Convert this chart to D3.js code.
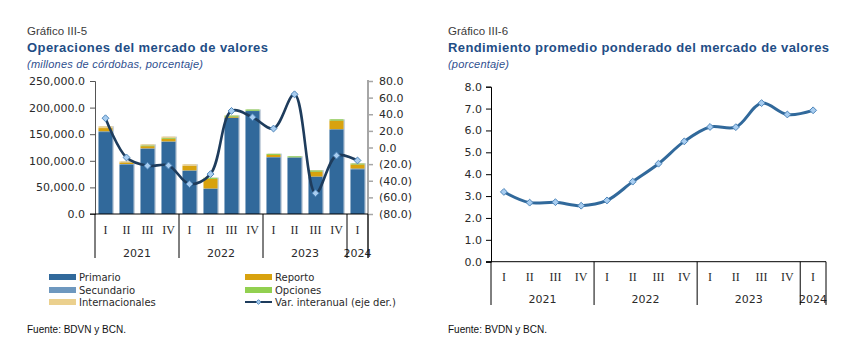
<!DOCTYPE html>
<html><head><meta charset="utf-8">
<script src="https://cdn.jsdelivr.net/npm/d3@7"></script>
<style>
html,body{margin:0;padding:0;background:#fff;}
svg{display:block;}
</style></head>
<body>
<svg id="c" width="852" height="358"></svg>
<script>
// ---- data ----
const quarters = ["I","II","III","IV","I","II","III","IV","I","II","III","IV","I"];
const years = ["2021","2022","2023","2024"];
const yearSpans = [4,4,4,1];
const primario = [154000,93000,122500,135500,81000,47000,180500,193500,106500,106000,70000,159000,84000];
const secundario = [1500,1000,1000,1000,1000,1000,500,500,500,500,500,500,1500];
const reporto = [6000,3000,4000,5000,8500,18000,2000,0,4000,0,9000,16000,7500];
const opciones = [0,0,1500,1500,0,2000,2000,2500,2000,2000,2500,2500,2000];
const internacionales = [3500,2000,2000,2500,3000,500,500,0,500,0,500,0,500];
const varInteranual = [35.2,-12,-22,-21.6,-44,-32,44,36.4,22.8,64,-55,-9.6,-15.6];
const rendimiento = [3.19,2.70,2.72,2.56,2.80,3.66,4.48,5.50,6.16,6.15,7.25,6.73,6.92];
const leftTicks = [0,50000,100000,150000,200000,250000];
const rightTicks = [-80,-60,-40,-20,0,20,40,60,80];
const rendTicks = [0,1,2,3,4,5,6,7,8];

const svg = d3.select("#c");
const blue = "#1F4E86";
const txt = "#2a2a2a";
const tickFont = "DejaVu Sans, Verdana, sans-serif";
const catFont = "Liberation Serif, Times New Roman, serif";

function header(x, t1, t2, t2w, t3, t3w){
  svg.append("text").attr("x",x).attr("y",35).attr("font-family","Liberation Sans, Arial").attr("font-size",11.5).attr("fill","#3a3a3a").text(t1);
  svg.append("text").attr("x",x).attr("y",52).attr("font-family","Liberation Sans, Arial").attr("font-weight","bold").attr("font-size",13).attr("fill",blue)
     .attr("textLength",t2w).attr("lengthAdjust","spacing").text(t2);
  svg.append("text").attr("x",x).attr("y",68).attr("font-family","Liberation Sans, Arial").attr("font-style","italic").attr("font-size",11).attr("fill","#2f4f8f")
     .attr("textLength",t3w).attr("lengthAdjust","spacing").text(t3);
}
header(27,"Gráfico III-5","Operaciones del mercado de valores",241,"(millones de córdobas, porcentaje)",176);
header(448,"Gráfico III-6","Rendimiento promedio ponderado del mercado de valores",381,"(porcentaje)",61);

function fmtNum(v){ return d3.format(",.1f")(v); }
function fmtParen(v){ return v<0 ? "("+d3.format(".1f")(-v)+")" : d3.format(".1f")(v); }

function catAxis(g, x, x0, x1, y0, rowY1, rowY2, lineBottom){
  const idx = d3.range(quarters.length);
  g.selectAll("text.q").data(idx).join("text").attr("class","q")
    .attr("x", i => x(i) + x.bandwidth()/2).attr("y", rowY1).attr("text-anchor","middle")
    .attr("font-family",catFont).attr("font-size",12).attr("fill",txt).text(i => quarters[i]);
  let start = 0;
  const bounds = [0];
  yearSpans.forEach((s,k)=>{
    const a = x(start), b = (start+s < quarters.length) ? x(start+s) : x1;
    g.append("text").attr("x",(a+b)/2).attr("y",rowY2).attr("text-anchor","middle")
      .attr("font-family",tickFont).attr("font-size",11).attr("fill",txt).text(years[k]);
    start += s; bounds.push(start);
  });
  bounds.forEach(b=>{
    const xx = b < quarters.length ? x(b) : x1;
    g.append("line").attr("x1",xx).attr("x2",xx).attr("y1",y0).attr("y2",lineBottom).attr("stroke","#000").attr("stroke-width",1);
  });
}

// ---------- LEFT CHART ----------
(function(){
  const x0 = 95, x1 = 368, yTop = 81, yBot = 214;
  const g = svg.append("g");
  const x = d3.scaleBand().domain(d3.range(quarters.length)).range([x0,x1]).paddingInner(0.33).paddingOuter(0.165);
  const xb = d3.scaleBand().domain(d3.range(quarters.length)).range([x0,x1]);
  const y = d3.scaleLinear().domain([0,250000]).range([yBot,yTop]);
  const y2 = d3.scaleLinear().domain([-80,80]).range([yBot,yTop]);

  const series = [
    {name:"Primario", vals:primario, color:"#31699B"},
    {name:"Secundario", vals:secundario, color:"#6E98BF"},
    {name:"Reporto", vals:reporto, color:"#D8A20E"},
    {name:"Opciones", vals:opciones, color:"#92D050"},
    {name:"Internacionales", vals:internacionales, color:"#EBD08E"}
  ];
  const rows = quarters.map((q,i)=>{ const o={i}; series.forEach(s=>o[s.name]=s.vals[i]); return o; });
  const stack = d3.stack().keys(series.map(s=>s.name))(rows);

  // bar shadow
  g.selectAll("rect.sh").data(rows).join("rect").attr("class","sh")
    .attr("x", d=>x(d.i)+1.5).attr("width", x.bandwidth())
    .attr("y", d=>y(d3.sum(series, s=>d[s.name]))).attr("height", d=>yBot - y(d3.sum(series, s=>d[s.name])))
    .attr("fill","#c9d3de");
  stack.forEach((layer,k)=>{
    g.selectAll("rect.s"+k).data(layer).join("rect").attr("class","s"+k)
      .attr("x",(d,i)=>x(i)).attr("width",x.bandwidth())
      .attr("y",d=>y(d[1])).attr("height",d=>Math.max(0,y(d[0])-y(d[1])))
      .attr("fill",series[k].color);
  });

  // left axis
  const la = g.append("g").attr("transform",`translate(${x0},0)`)
    .call(d3.axisLeft(y).tickValues(leftTicks).tickSize(5).tickFormat(fmtNum));
  la.select(".domain").attr("stroke","#555");
  la.selectAll(".tick line").attr("stroke","#555");
  la.selectAll("text").attr("font-family",tickFont).attr("font-size",11).attr("fill",txt).attr("x",-10);

  // right axis
  const ra = g.append("g").attr("transform",`translate(${x1},0)`)
    .call(d3.axisRight(y2).tickValues(rightTicks).tickSize(5).tickFormat(fmtParen).tickSizeOuter(0));
  ra.select(".domain").attr("stroke","#a6a6a6").attr("stroke-width",2).attr("d",`M0,${yTop-1}V${yBot+44}`);
  ra.selectAll(".tick line").attr("stroke","#a6a6a6").attr("stroke-width",1.5);
  ra.selectAll("text").attr("font-family",tickFont).attr("font-size",11).attr("fill",txt).attr("x",11);

  // baseline
  g.append("line").attr("x1",x0-5).attr("x2",x1).attr("y1",yBot).attr("y2",yBot).attr("stroke","#000");

  catAxis(g, xb, x0, x1, yBot, 234, 257, 258);

  // line
  const line = d3.line().x((d,i)=>xb(i)+xb.bandwidth()/2).y(d=>y2(d)).curve(d3.curveCatmullRom.alpha(0.5));
  g.append("path").datum(varInteranual).attr("d",line).attr("fill","none").attr("stroke","#1E3C5C").attr("stroke-width",2.6);
  const sym = d3.symbol().type(d3.symbolDiamond2).size(30);
  g.selectAll("path.m").data(varInteranual).join("path").attr("class","m")
    .attr("transform",(d,i)=>`translate(${xb(i)+xb.bandwidth()/2},${y2(d)})`)
    .attr("d",sym).attr("fill","#A8CDF0").attr("stroke","#4F86BA").attr("stroke-width",1);

  // legend
  const leg = [
    {t:"Primario", c:"#31699B", x:49, y:277},
    {t:"Secundario", c:"#6E98BF", x:49, y:290},
    {t:"Internacionales", c:"#EBD08E", x:49, y:302},
    {t:"Reporto", c:"#D8A20E", x:245, y:277},
    {t:"Opciones", c:"#92D050", x:245, y:290}
  ];
  leg.forEach(l=>{
    g.append("rect").attr("x",l.x).attr("y",l.y-3).attr("width",27).attr("height",6).attr("fill",l.c);
    g.append("text").attr("x",l.x+30).attr("y",l.y+4).attr("font-family",tickFont).attr("font-size",10).attr("fill",txt).text(l.t);
  });
  g.append("line").attr("x1",245).attr("x2",272).attr("y1",302).attr("y2",302).attr("stroke","#1E3C5C").attr("stroke-width",2);
  g.append("path").attr("transform","translate(258.5,302)").attr("d",d3.symbol().type(d3.symbolDiamond2).size(14)).attr("fill","#A8CDF0").attr("stroke","#4F86BA");
  g.append("text").attr("x",275).attr("y",306).attr("font-family",tickFont).attr("font-size",10).attr("fill",txt).text("Var. interanual (eje der.)");

  g.append("text").attr("x",27).attr("y",333).attr("font-family","Liberation Sans, Arial").attr("font-size",10).attr("fill","#111").text("Fuente: BDVN y BCN.");
})();

// ---------- RIGHT CHART ----------
(function(){
  const x0 = 491, x1 = 826, yTop = 86.7, yBot = 261.7;
  const g = svg.append("g");
  const xb = d3.scaleBand().domain(d3.range(quarters.length)).range([x0,x1]);
  const y = d3.scaleLinear().domain([0,8]).range([yBot,yTop]);

  const la = g.append("g").attr("transform",`translate(${x0},0)`)
    .call(d3.axisLeft(y).tickValues(rendTicks).tickSize(5).tickFormat(d3.format(".1f")));
  la.select(".domain").attr("stroke","#000");
  la.selectAll("text").attr("font-family",tickFont).attr("font-size",11).attr("fill",txt).attr("x",-9);

  g.append("line").attr("x1",x0-5).attr("x2",x1).attr("y1",yBot).attr("y2",yBot).attr("stroke","#000");
  catAxis(g, xb, x0, x1, yBot, 281, 303, 305);

  const line = d3.line().x((d,i)=>xb(i)+xb.bandwidth()/2).y(d=>y(d)).curve(d3.curveCatmullRom.alpha(0.5));
  g.append("path").datum(rendimiento).attr("d",line).attr("fill","none").attr("stroke","#31699B").attr("stroke-width",3);
  const sym = d3.symbol().type(d3.symbolDiamond2).size(30);
  g.selectAll("path.m").data(rendimiento).join("path").attr("class","m")
    .attr("transform",(d,i)=>`translate(${xb(i)+xb.bandwidth()/2},${y(d)})`)
    .attr("d",sym).attr("fill","#A8CDF0").attr("stroke","#4F86BA").attr("stroke-width",1);

  g.append("text").attr("x",448).attr("y",333).attr("font-family","Liberation Sans, Arial").attr("font-size",10).attr("fill","#111").text("Fuente: BVDN y BCN.");
})();
</script>
</body></html>
